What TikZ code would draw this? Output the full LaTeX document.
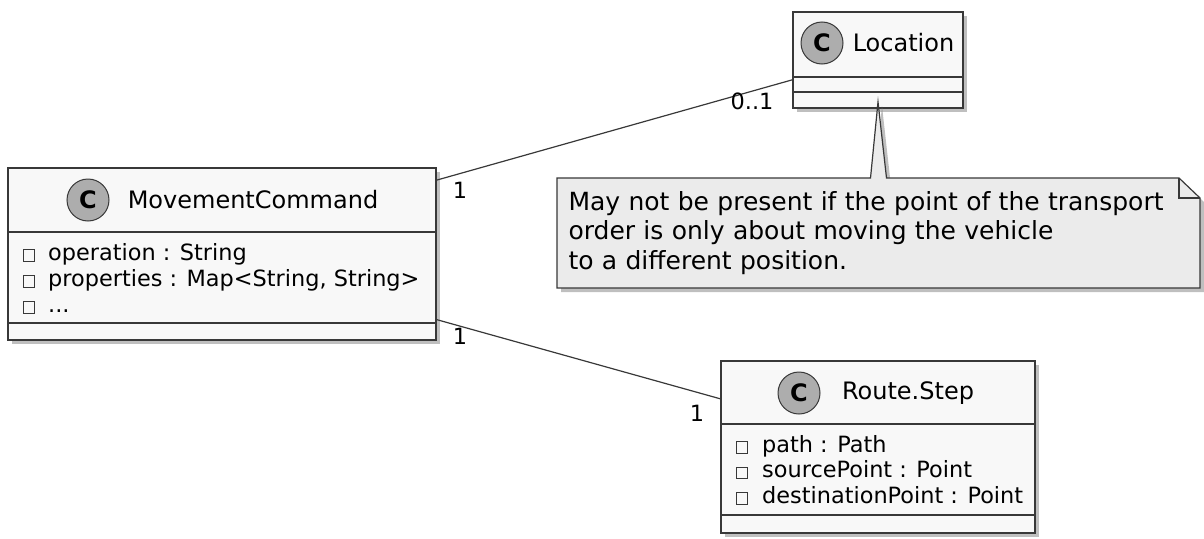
\documentclass[tikz,border=0pt]{standalone}
\usepackage{fontspec}
\setmainfont{DejaVu Sans}
\usetikzlibrary{calc,shadows}

\definecolor{umlborder}{HTML}{383838}
\definecolor{umlback}{HTML}{F8F8F8}
\definecolor{noteback}{HTML}{EBEBEB}
\definecolor{spotback}{HTML}{ADADAD}

\tikzset{
  classbox/.style={draw=umlborder, line width=1.5pt, fill=umlback, inner sep=0pt, outer sep=0pt,
    drop shadow={shadow xshift=4pt, shadow yshift=-4pt, fill=black!50, opacity=0.5}},
  spot/.style={circle, draw=umlborder, line width=1pt, fill=spotback, minimum size=42pt, inner sep=0pt,
    font=\fontsize{24}{24}\selectfont\bfseries},
  classname/.style={font=\fontsize{24}{28}\selectfont, inner sep=0pt},
  attr/.style={anchor=base west, font=\fontsize{22.4}{26}\selectfont, inner sep=0pt},
  visib/.style={draw=umlborder, line width=1pt, minimum size=11.5pt, inner sep=0pt},
  compart/.style={draw=umlborder, line width=1.5pt},
  assoc/.style={draw=umlborder, line width=1.2pt},
  mult/.style={font=\fontsize{22.4}{26}\selectfont, inner sep=0pt},
  notebox/.style={minimum width=643pt, minimum height=110pt, text width=620pt, inner xsep=11pt,
    inner ysep=0pt, outer sep=0pt, align=left, font=\fontsize{25}{29.5}\selectfont},
}

\begin{document}
\begin{tikzpicture}[x=1pt, y=-1pt]
  \useasboundingbox (0,0) rectangle (1204,538);

  % Class frames
  \node[classbox, minimum width=428pt, minimum height=172pt] (mc) at (222,254) {};
  \node[classbox, minimum width=170pt, minimum height=96pt] (loc) at (878,60) {};
  \node[classbox, minimum width=314pt, minimum height=172pt] (step) at (878,447) {};

  % Compartment lines
  \draw[compart] ($(mc.north west)+(0,64)$) -- ($(mc.north east)+(0,64)$);
  \draw[compart] ($(mc.north west)+(0,155)$) -- ($(mc.north east)+(0,155)$);
  \draw[compart] ($(loc.north west)+(0,65)$) -- ($(loc.north east)+(0,65)$);
  \draw[compart] ($(loc.north west)+(0,80)$) -- ($(loc.north east)+(0,80)$);
  \draw[compart] ($(step.north west)+(0,63)$) -- ($(step.north east)+(0,63)$);
  \draw[compart] ($(step.north west)+(0,154)$) -- ($(step.north east)+(0,154)$);

  % Headers
  \node[spot] (mc-spot) at (88,200) {C};
  \node[classname] (mc-name) at (253,200) {MovementCommand};
  \node[spot] (loc-spot) at (822,43) {C};
  \node[classname] (loc-name) at (903.5,43) {Location};
  \node[spot] (step-spot) at (799,393) {C};
  \node[classname] (step-name) at (908,393) {Route.Step};

  % Attributes
  \node[visib] (mc-v1) at (29,255.5) {};
  \node[attr] (mc-a1) at (48,260) {operation : String};
  \node[visib] (mc-v2) at (29,281.5) {};
  \node[attr] (mc-a2) at (48,286) {properties : Map<String, String>};
  \node[visib] (mc-v3) at (29,307.5) {};
  \node[attr] (mc-a3) at (48,312) {...};

  \node[visib] (step-v1) at (742,447.5) {};
  \node[attr] (step-a1) at (762,452) {path : Path};
  \node[visib] (step-v2) at (742,473) {};
  \node[attr] (step-a2) at (762,477.5) {sourcePoint : Point};
  \node[visib] (step-v3) at (742,498.5) {};
  \node[attr] (step-a3) at (762,503) {destinationPoint : Point};

  % Note on Location
  \node[notebox] (note) at (878.5,233) {};
  \filldraw[draw=umlborder, line width=1.2pt, fill=noteback,
    preaction={fill=black!50, opacity=0.5, transform canvas={xshift=4pt, yshift=-4pt}}]
    (note.north west) -- ([xshift=-8pt]note.north) -- ([yshift=6pt]loc.south)
    -- ([xshift=8pt]note.north) -- ([xshift=-21pt]note.north east)
    -- ([yshift=-20pt]note.north east) -- (note.south east) -- (note.south west) -- cycle;
  \draw[umlborder, line width=1.2pt] ([xshift=-21pt]note.north east) -- ([xshift=-21pt, yshift=-20pt]note.north east)
    -- ([yshift=-20pt]note.north east);
  \node[notebox] (note-text) at (note.center)
    {May not be present if the point of the transport\\order is only about moving the vehicle\\to a different position.};

  % Associations
  \draw[assoc] (mc.19.6) -- (loc.193.2);
  \draw[assoc] (mc.343.6) -- (step.163.3);
  \node[mult] (mc-loc-a) at (460,190.5) {1};
  \node[mult] (mc-loc-b) at (752,101.5) {0..1};
  \node[mult] (mc-step-a) at (460,336.5) {1};
  \node[mult] (mc-step-b) at (697,413.5) {1};
\end{tikzpicture}
\end{document}
